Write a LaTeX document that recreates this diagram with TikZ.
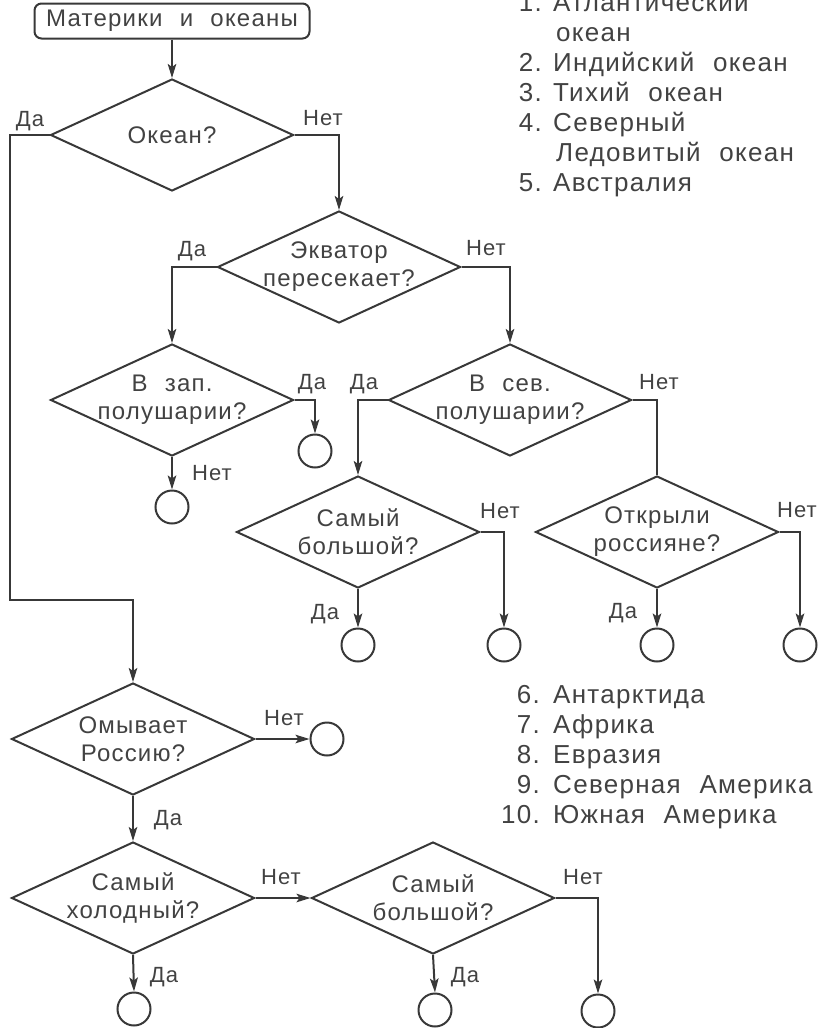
\documentclass[tikz,border=0pt]{standalone}
\usepackage{fontspec}
\setmainfont[LetterSpace=5,WordSpace=2.2]{Liberation Sans}
\usetikzlibrary{shapes.geometric,arrows.meta}
\definecolor{ink}{HTML}{383838}
\definecolor{txt}{HTML}{424242}
\begin{document}
\begin{tikzpicture}[x=1pt,y=-1pt,
  ln/.style={draw=ink,line width=2pt},
  arr/.style={ln,-{Stealth[length=14pt,width=8.5pt,inset=3pt]}},
  dia/.style={diamond,draw=ink,line width=2pt,inner sep=0pt,minimum width=243pt,minimum height=112pt},
  dtext/.style={text=txt,align=center,font=\fontsize{24}{28}\selectfont,inner sep=0pt},
  lab/.style={text=txt,font=\fontsize{22}{26}\selectfont,inner sep=0pt,text height=15.5pt,text depth=0pt},
  endc/.style={circle,draw=ink,line width=2pt,minimum size=33pt,inner sep=0pt},
  lnum/.style={text=txt,font=\fontsize{26}{30}\selectfont,inner sep=0pt,anchor=base east},
  litem/.style={text=txt,font=\fontsize{26}{30}\selectfont,inner sep=0pt,anchor=base west}]
\useasboundingbox (0,0) rectangle (823,1028);
% start box
\node[draw=ink,line width=2pt,rounded corners=7pt,minimum width=275pt,minimum height=35pt,inner sep=0pt,text=txt,font=\fontsize{24}{28}\selectfont] (start) at (172,21) {Материки и океаны};
% diamonds
\node[dia] (d1) at (172,135) {};
\node[dtext] (t1) at (d1) {Океан?};
\node[dia] (d2) at (339,267) {};
\node[dtext] (t2) at (d2) {Экватор\\пересекает?};
\node[dia] (d3) at (172,400) {};
\node[dtext] (t3) at (d3) {В зап.\\полушарии?};
\node[dia] (d4) at (510,400) {};
\node[dtext] (t4) at (d4) {В сев.\\полушарии?};
\node[dia] (d5) at (358,532) {};
\node[dtext] (t5) at (d5) {Самый\\большой?};
\node[dia] (d6) at (657,532) {};
\node[dtext] (t6) at (d6) {Открыли\\россияне?};
\node[dia] (d7) at (133,739) {};
\node[dtext] (t7) at (d7) {Омывает\\Россию?};
\node[dia] (d8) at (133,898) {};
\node[dtext] (t8) at (d8) {Самый\\холодный?};
\node[dia] (d9) at (433,898) {};
\node[dtext] (t9) at (d9) {Самый\\большой?};
% end circles
\node[endc] (c3a) at (315,451) {};
\node[endc] (c3b) at (172,507) {};
\node[endc] (c5a) at (358,645) {};
\node[endc] (c5b) at (504,645) {};
\node[endc] (c6a) at (657,645) {};
\node[endc] (c6b) at (800,645) {};
\node[endc] (c7) at (327,739) {};
\node[endc] (c8) at (134,1009) {};
\node[endc] (c9a) at (435,1010) {};
\node[endc] (c9b) at (598,1011) {};
% connectors
\coordinate (ya) at (10,600);
\draw[arr] (start) -- (d1.north);
\draw[arr] (d1.west) -| (ya) -| (d7.north);
\draw[arr] (d1.east) -| (d2.north);
\draw[arr] (d2.west) -| (d3.north);
\draw[arr] (d2.east) -| (d4.north);
\draw[arr] (d3.east) -| (c3a.north);
\draw[arr] (d3.south) -- (c3b.north);
\draw[arr] (d4.west) -| (d5.north);
\draw[ln] (d4.east) -| (d6.north);
\draw[arr] (d5.south) -- (c5a.north);
\draw[arr] (d5.east) -| (c5b.north);
\draw[arr] (d6.south) -- (c6a.north);
\draw[arr] (d6.east) -| (c6b.north);
\draw[arr] (d7.east) -- (c7.west);
\draw[arr] (d7.south) -- (d8.north);
\draw[arr] (d8.east) -- (d9.west);
\draw[arr] (d8.south) -- (c8.north);
\draw[arr] (d9.south) -- (c9a.north);
\draw[arr] (d9.east) -| (c9b.north);
% branch labels
\node[lab] (y1) at (30,119) {Да};
\node[lab] (n1) at (323,118) {Нет};
\node[lab] (y2) at (192,249) {Да};
\node[lab] (n2) at (486,248) {Нет};
\node[lab] (y3) at (312,382) {Да};
\node[lab] (n3) at (212,473) {Нет};
\node[lab] (y4) at (364,382) {Да};
\node[lab] (n4) at (659,382) {Нет};
\node[lab] (n5) at (500,511) {Нет};
\node[lab] (y5) at (325,612) {Да};
\node[lab] (n6) at (797,510) {Нет};
\node[lab] (y6) at (623,611) {Да};
\node[lab] (n7) at (284,718) {Нет};
\node[lab] (y7) at (168,818) {Да};
\node[lab] (n8) at (281,877) {Нет};
\node[lab] (y8) at (164,975) {Да};
\node[lab] (n9) at (583,877) {Нет};
\node[lab] (y9) at (465,975) {Да};
% list 1
\node[lnum] (ln1) at (542,11) {1.};
\node[litem] (li1) at (553,11) {Атлантический};
\node[litem] (li1b) at (556,41) {океан};
\node[lnum] (ln2) at (542,71) {2.};
\node[litem] (li2) at (553,71) {Индийский океан};
\node[lnum] (ln3) at (542,101) {3.};
\node[litem] (li3) at (553,101) {Тихий океан};
\node[lnum] (ln4) at (542,131) {4.};
\node[litem] (li4) at (553,131) {Северный};
\node[litem] (li4b) at (556,161) {Ледовитый океан};
\node[lnum] (ln5) at (542,191) {5.};
\node[litem] (li5) at (553,191) {Австралия};
% list 2
\node[lnum] (ln6) at (540,703) {6.};
\node[litem] (li6) at (553,703) {Антарктида};
\node[lnum] (ln7) at (540,733) {7.};
\node[litem] (li7) at (553,733) {Африка};
\node[lnum] (ln8) at (540,763) {8.};
\node[litem] (li8) at (553,763) {Евразия};
\node[lnum] (ln9) at (540,793) {9.};
\node[litem] (li9) at (553,793) {Северная Америка};
\node[lnum] (ln10) at (540,823) {10.};
\node[litem] (li10) at (553,823) {Южная Америка};
\end{tikzpicture}
\end{document}
